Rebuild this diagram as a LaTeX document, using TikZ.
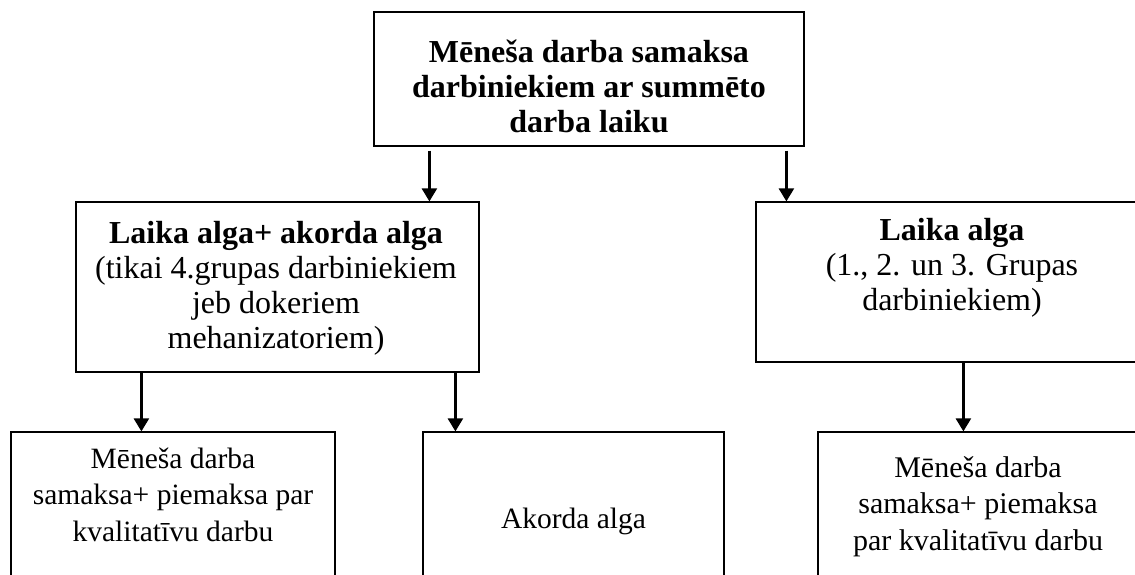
\documentclass[tikz,border=0pt]{standalone}
\usepackage{fontspec}
\setmainfont{Liberation Serif}
\usetikzlibrary{arrows.meta}
\begin{document}
\begin{tikzpicture}[x=1pt,y=-1pt,
  box/.style={draw=black,line width=1.2pt,rectangle,inner sep=0pt},
  txt/.style={anchor=north,align=center,inner sep=0pt},
  big/.style={font=\fontsize{32}{35}\selectfont},
  bigbold/.style={font=\fontsize{32}{35}\selectfont\bfseries},
  small/.style={font=\fontsize{29.5}{36.5}\selectfont},
  arr/.style={line width=2.4pt,-{Triangle[width=15pt,length=13pt]}}]
\path[use as bounding box] (0,0) rectangle (1135,574);
\begin{scope}
\clip (0,0) rectangle (1135,574);
% boxes
\node[box,minimum width=430pt,minimum height=134pt] (top) at (589,79) {};
\node[box,minimum width=403pt,minimum height=170pt] (lm) at (277.5,287) {};
\node[box,minimum width=394pt,minimum height=160pt] (rm) at (953,282) {};
\node[box,minimum width=324pt,minimum height=168pt] (bl) at (173,516) {};
\node[box,minimum width=301pt,minimum height=168pt] (bm) at (573.5,516) {};
\node[box,minimum width=322pt,minimum height=168pt] (br) at (979,516) {};
% texts
\node[txt,bigbold] (topT) at (589,37.5)
  {\strut Mēneša darba samaksa\\darbiniekiem ar summēto\\darba laiku};
\node[txt,big] (lmT) at (276,218.5)
  {\strut\textbf{Laika alga+ akorda alga}\\(tikai 4.grupas darbiniekiem\\jeb dokeriem\\mehanizatoriem)};
\node[txt,big] (rmT) at (952,215.5)
  {\strut\textbf{Laika alga}\\(1., 2. un 3. Grupas\\darbiniekiem)};
\node[txt,small] (blT) at (173,442.4)
  {\strut Mēneša darba\\samaksa+ piemaksa par\\kvalitatīvu darbu};
\node[txt,small] (bmT) at (573.5,502.4) {\strut Akorda alga};
\node[txt,font=\fontsize{30}{36.5}\selectfont] (brT) at (978,451.4)
  {\strut Mēneša darba\\samaksa+ piemaksa\\par kvalitatīvu darbu};
% connectors
\draw[arr] ([xshift=56pt,yshift=-4pt]top.south west) coordinate (a1) -- (a1 |- lm.north);
\draw[arr] ([xshift=413pt,yshift=-4pt]top.south west) coordinate (a2) -- (a2 |- rm.north);
\draw[arr] ([xshift=66pt]lm.south west) coordinate (a3) -- (a3 |- bl.north);
\draw[arr] ([xshift=380pt]lm.south west) coordinate (a4) -- (a4 |- bm.north);
\draw[arr] ([xshift=208pt]rm.south west) coordinate (a5) -- (a5 |- br.north);
\end{scope}
\end{tikzpicture}
\end{document}
